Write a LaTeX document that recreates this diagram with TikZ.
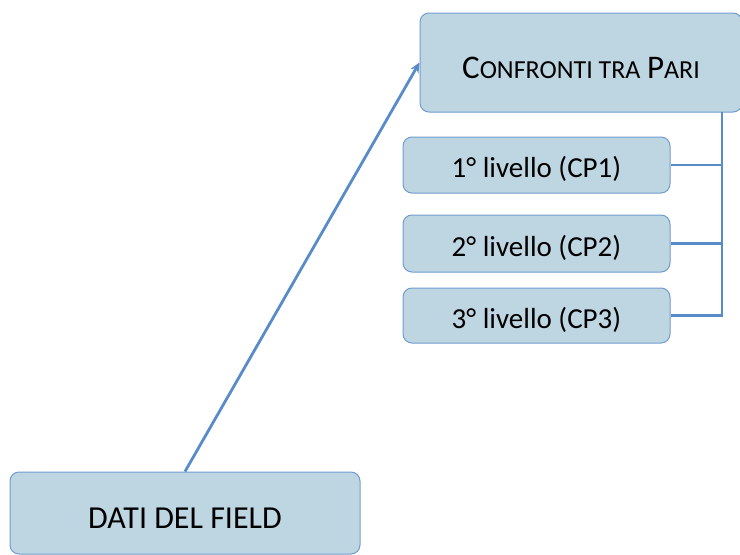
\documentclass[tikz,border=0pt]{standalone}
\usepackage{fontspec}
\setmainfont{Carlito}
\usetikzlibrary{arrows.meta}
\definecolor{boxfill}{RGB}{190,214,226}
\definecolor{boxdraw}{RGB}{112,156,206}
\definecolor{conn}{RGB}{88,140,200}
\tikzset{
  box/.style={draw=boxdraw, fill=boxfill, line width=1pt, rounded corners=9pt, inner sep=0pt, font=\fontsize{29}{34}\selectfont},
  conline/.style={draw=conn, line width=2.8pt},
}
\newcommand{\bigc}[1]{{\fontsize{33}{38}\selectfont #1}}
\newcommand{\smc}[1]{{\fontsize{26}{38}\selectfont #1}}
\newcommand{\vdown}[2]{\raisebox{-#1}[0pt][0pt]{#2}}
\begin{document}
\begin{tikzpicture}[x=1pt,y=-1pt]
\useasboundingbox (0,0) rectangle (740,555);
\node[box, minimum width=322pt, minimum height=99pt] (cp) at (581,62.5) {\vdown{16pt}{\bigc{C}\smc{ONFRONTI TRA} \bigc{P}\smc{ARI}}};
\node[box, minimum width=267pt, minimum height=56pt] (l1) at (536.5,165) {\vdown{12.5pt}{1° livello (CP1)}};
\node[box, minimum width=267pt, minimum height=57pt] (l2) at (536.5,243.5) {\vdown{12.5pt}{2° livello (CP2)}};
\node[box, minimum width=267pt, minimum height=55pt] (l3) at (536.5,315.5) {\vdown{12.5pt}{3° livello (CP3)}};
\node[box, minimum width=350pt, minimum height=82pt, font=\fontsize{32}{38}\selectfont] (df) at (185,513) {\vdown{15pt}{DATI DEL FIELD}};
\coordinate (bus) at (722,112);
\draw[conline] (bus) -- (bus |- l3.east) -- (l3.east);
\draw[conline] (bus |- l1.east) -- (l1.east);
\draw[conline] (bus |- l2.east) -- (l2.east);
\draw[conline, -{Stealth[length=10pt,width=9pt]}] (df.north) -- (cp.west);
\end{tikzpicture}
\end{document}
